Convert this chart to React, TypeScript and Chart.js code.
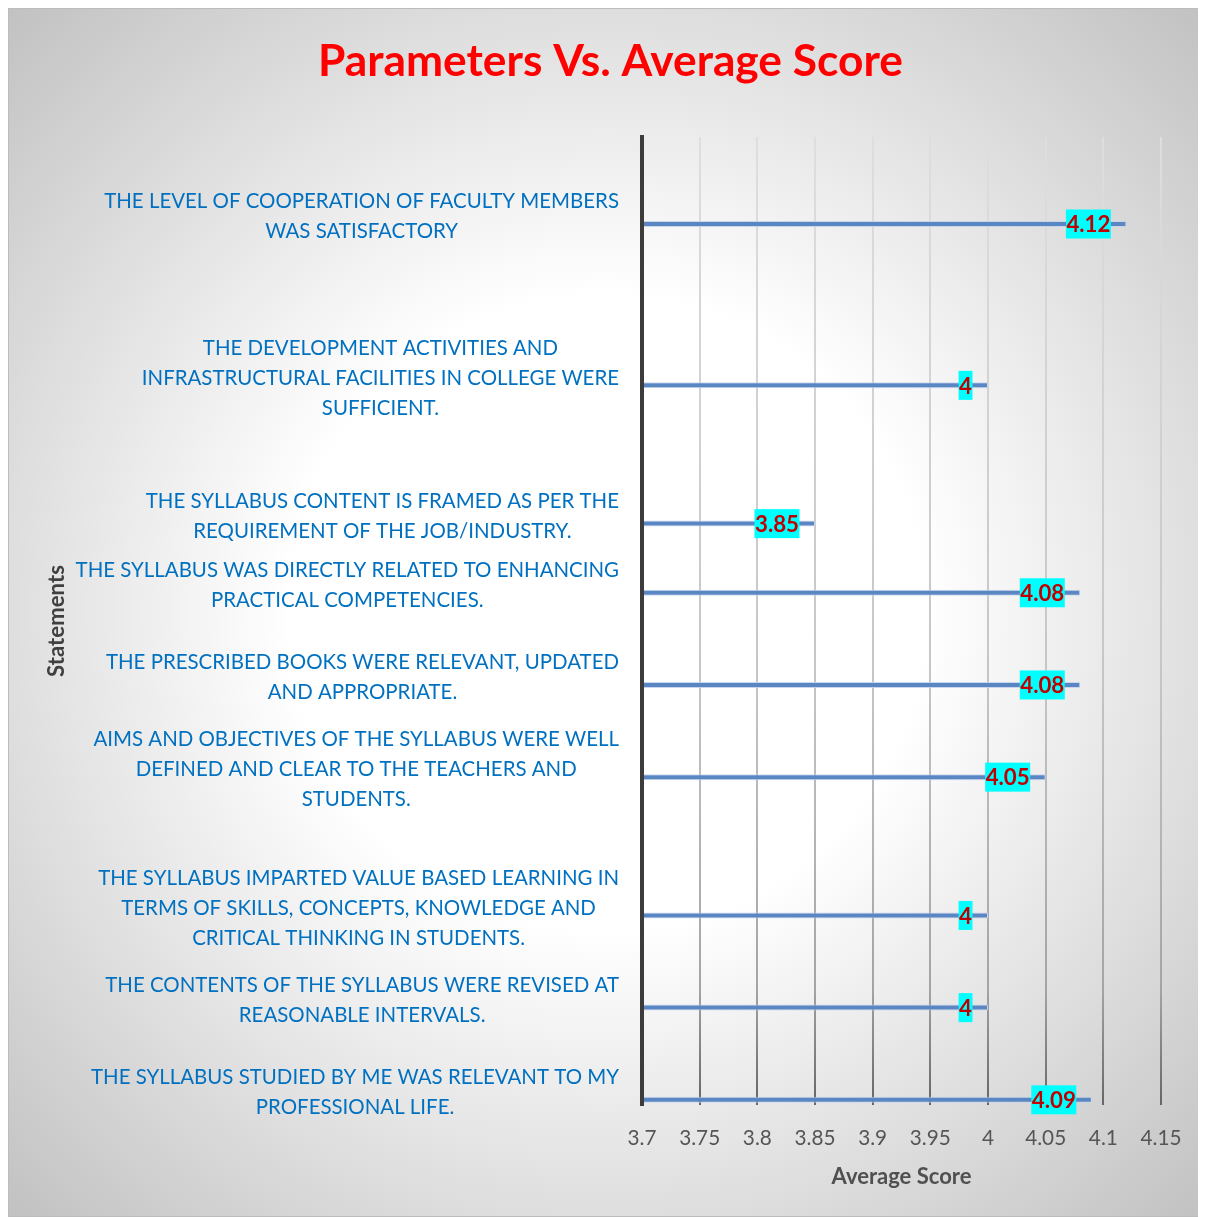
import React, { useEffect, useRef } from 'react';
import { Chart, registerables } from 'chart.js';

Chart.register(...registerables);

// ---------- data ----------
const chartTitle = 'Parameters Vs. Average Score';
const xAxisTitle = 'Average Score';
const yAxisTitle = 'Statements';

const statements: string[][] = [
  ['THE LEVEL OF COOPERATION OF FACULTY MEMBERS', 'WAS SATISFACTORY'],
  ['THE DEVELOPMENT ACTIVITIES AND', 'INFRASTRUCTURAL FACILITIES IN COLLEGE WERE', 'SUFFICIENT.'],
  ['THE SYLLABUS CONTENT IS FRAMED AS PER THE', 'REQUIREMENT OF THE JOB/INDUSTRY.'],
  ['THE SYLLABUS WAS DIRECTLY RELATED TO ENHANCING', 'PRACTICAL COMPETENCIES.'],
  ['THE PRESCRIBED BOOKS WERE RELEVANT, UPDATED', 'AND APPROPRIATE.'],
  ['AIMS AND OBJECTIVES OF THE SYLLABUS WERE WELL', 'DEFINED AND CLEAR TO THE TEACHERS AND', 'STUDENTS.'],
  ['THE SYLLABUS IMPARTED VALUE BASED LEARNING IN', 'TERMS OF SKILLS, CONCEPTS, KNOWLEDGE AND', 'CRITICAL THINKING IN STUDENTS.'],
  ['THE CONTENTS OF THE SYLLABUS WERE REVISED AT', 'REASONABLE INTERVALS.'],
  ['THE SYLLABUS STUDIED BY ME WAS RELEVANT TO MY', 'PROFESSIONAL LIFE.'],
];

const averageScores: number[] = [4.12, 4, 3.85, 4.08, 4.08, 4.05, 4, 4, 4.09];

// category rows (of the original chart's 42-row category axis) used by each statement
const statementRows: number[] = [3, 10, 16, 19, 23, 27, 33, 37, 41];
const rowCount = 42;

const xMin = 3.7;
const xMax = 4.15;
const xStep = 0.05;

// ---------- helpers ----------
const FAMILY = 'Lato';

export default function App() {
  const ref = useRef<HTMLCanvasElement>(null);

  useEffect(() => {
    const canvas = ref.current!;
    const mctx = canvas.getContext('2d')!;
    const fit = (text: string, weight: string, target: number) => {
      mctx.font = `${weight} 100px ${FAMILY}`;
      return (100 * target) / mctx.measureText(text).width;
    };
    const titleSize = fit(chartTitle, 'bold', 585);
    const labelSize = fit(statements[0][0], 'normal', 515);
    const tickSize = fit('3.85', 'normal', 41);
    const xTitleSize = fit(xAxisTitle, 'bold', 140);
    const yTitleSize = fit(yAxisTitle, 'bold', 112);
    const dataLabelSize = fit('4.12', 'bold', 44);

    const rowLabels: string[] = Array.from({ length: rowCount }, () => '');
    const rowValues: (number | null)[] = Array.from({ length: rowCount }, () => null);
    const emptyValues: (number | null)[] = Array.from({ length: rowCount }, () => null);
    statements.forEach((lines, i) => {
      rowLabels[statementRows[i]] = lines.join(' ');
      rowValues[statementRows[i]] = averageScores[i];
    });

    const PAD_LEFT = 7;
    const PLOT_TOP = 129;
    const TITLE_CENTER = 54;
    const titleLH = titleSize * 1.2;
    const xTickLH = tickSize * 1.2;
    const xTitleLH = xTitleSize * 1.2;
    const yTitleLH = yTitleSize * 1.2;

    const bgPlugin = {
      id: 'bgPlugin',
      beforeDraw(chart: any) {
        const { ctx, width, height } = chart;
        ctx.save();
        const cx = width / 2;
        const cy = height / 2;
        const g = ctx.createRadialGradient(cx, cy, 0, cx, cy, 880);
        g.addColorStop(0, '#ffffff');
        g.addColorStop(0.36, '#ffffff');
        g.addColorStop(0.94, '#c4c4c4');
        g.addColorStop(1, '#c0c0c0');
        ctx.fillStyle = g;
        ctx.fillRect(0, 0, width, height);
        ctx.strokeStyle = '#bcbcbc';
        ctx.lineWidth = 1;
        ctx.strokeRect(0.5, 0.5, width - 1, height - 1);
        ctx.restore();
      },
    };

    const labelPlugin = {
      id: 'labelPlugin',
      afterDraw(chart: any) {
        const ctx = chart.ctx;
        const yScale = chart.scales.y;
        ctx.save();
        ctx.textAlign = 'center';
        ctx.textBaseline = 'middle';
        ctx.font = `normal ${labelSize}px ${FAMILY}`;
        ctx.fillStyle = '#0070c0';
        const right = yScale.right - 23;
        const lineH = 30;
        statements.forEach((lines, i) => {
          const cy = yScale.getPixelForValue(statementRows[i]) - 1;
          const widest = Math.max(...lines.map((l) => ctx.measureText(l).width));
          const cx = right - widest / 2;
          lines.forEach((line, j) => {
            ctx.fillText(line, cx, cy + (j - (lines.length - 1) / 2) * lineH);
          });
        });

        const meta = chart.getDatasetMeta(1);
        const values = chart.data.datasets[1].data;
        ctx.font = `bold ${dataLabelSize}px ${FAMILY}`;
        meta.data.forEach((bar: any, idx: number) => {
          const v = values[idx];
          if (v == null) return;
          const text = String(v);
          const w = ctx.measureText(text).width + 1;
          const h = 29;
          const rx = bar.x - 15.5;
          ctx.fillStyle = '#00ffff';
          ctx.fillRect(rx - w, bar.y - h / 2, w, h);
          ctx.fillStyle = '#c00000';
          ctx.fillText(text, rx - w / 2, bar.y + 1);
        });
        ctx.restore();
      },
    };

    const gridColor = (c: any) => {
      const chart = c.chart;
      const area = chart.chartArea;
      if (!area) return '#c8c8c8';
      const g = chart.ctx.createLinearGradient(0, area.top, 0, area.bottom);
      g.addColorStop(0, '#dedede');
      g.addColorStop(0.55, '#c6c6c6');
      g.addColorStop(0.88, '#a4a4a4');
      g.addColorStop(1, '#666666');
      return g;
    };

    const chart = new Chart(canvas, {
      type: 'bar',
      data: {
        labels: rowLabels,
        datasets: [
          {
            label: '',
            data: emptyValues,
            backgroundColor: 'rgba(0,0,0,0)',
            categoryPercentage: 1.1,
          } as any,
          {
            label: 'Average Score',
            data: rowValues,
            backgroundColor: '#5b86c4',
            borderColor: 'rgba(196,212,236,0.9)',
            borderWidth: 1,
            maxBarThickness: 6,
            categoryPercentage: 1.1,
            barPercentage: 0.9,
          } as any,
        ],
      },
      options: {
        indexAxis: 'y',
        responsive: false,
        animation: false,
        devicePixelRatio: 1,
        layout: { padding: { top: 0, left: PAD_LEFT, right: 0, bottom: 0 } },
        plugins: {
          legend: { display: false },
          tooltip: { enabled: false },
          title: {
            display: true,
            text: chartTitle,
            color: '#ff0000',
            font: { family: FAMILY, size: titleSize, weight: 'bold' },
            padding: {
              top: TITLE_CENTER - titleLH / 2,
              bottom: PLOT_TOP - TITLE_CENTER - titleLH / 2,
            },
          },
        },
        scales: {
          x: {
            type: 'linear',
            position: 'bottom',
            min: xMin,
            max: xMax,
            ticks: {
              stepSize: xStep,
              color: '#555555',
              font: { family: FAMILY, size: tickSize },
              padding: 1130.5 - 1097 - xTickLH / 2,
              callback: (v: any) => String(Number(Number(v).toFixed(2))),
            },
            grid: { color: gridColor, lineWidth: 2, drawTicks: false },
            border: { display: false },
            title: {
              display: true,
              text: xAxisTitle,
              color: '#505050',
              font: { family: FAMILY, size: xTitleSize, weight: 'bold' },
              padding: { top: 0, bottom: 1209 - 1169.2 - xTitleLH / 2 },
            },
            afterFit: (s: any) => {
              s.height = 112;
            },
          },
          y: {
            type: 'category',
            offset: true,
            ticks: { display: false },
            grid: { display: false },
            border: { display: true, color: '#3c3c3c', width: 4, z: 1 },
            title: {
              display: true,
              text: yAxisTitle,
              color: '#404040',
              font: { family: FAMILY, size: yTitleSize, weight: 'bold' },
              padding: { top: 49 - PAD_LEFT - yTitleLH / 2, bottom: 0 },
            },
            afterFit: (s: any) => {
              s.width = 634 - PAD_LEFT;
            },
          },
          yRight: {
            type: 'category',
            position: 'right',
            display: true,
            ticks: { display: false },
            grid: { display: false },
            border: { display: false },
            afterFit: (s: any) => {
              s.width = 45;
            },
          },
        },
      } as any,
      plugins: [bgPlugin, labelPlugin],
    });

    return () => chart.destroy();
  }, []);

  return (
    <div style={{ width: 1198, height: 1209 }}>
      <canvas ref={ref} width={1198} height={1209} style={{ display: 'block' }} />
    </div>
  );
}
